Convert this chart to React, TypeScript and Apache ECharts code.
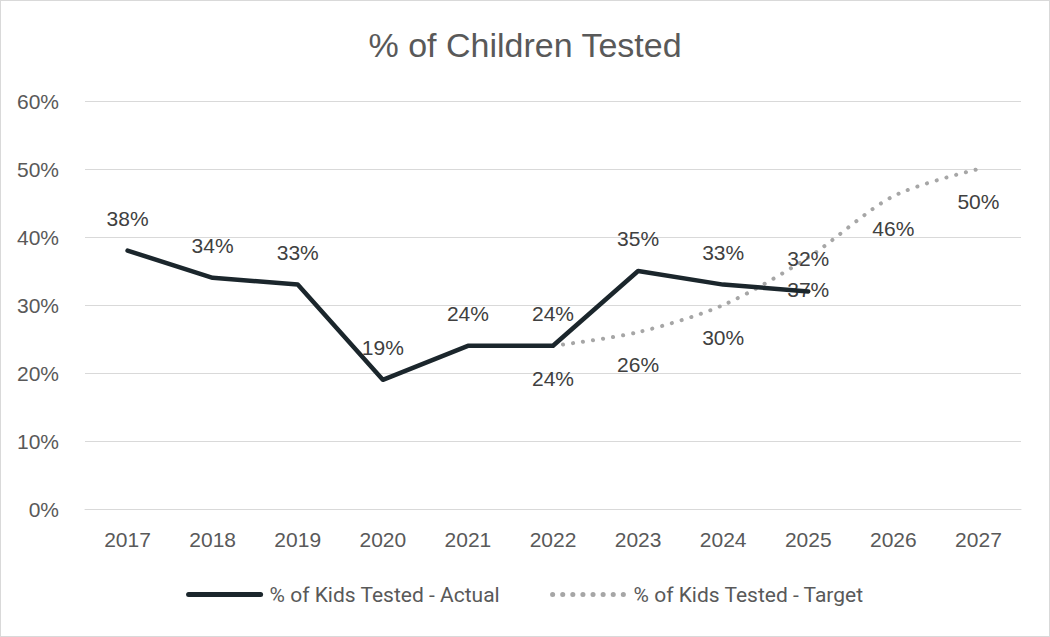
import React, { useEffect, useRef } from "react";
import * as echarts from "echarts";

const categories = ["2017", "2018", "2019", "2020", "2021", "2022", "2023", "2024", "2025", "2026", "2027"];
const actualValues: (number | null)[] = [38, 34, 33, 19, 24, 24, 35, 33, 32, null, null];
const targetValues: (number | null)[] = [null, null, null, null, null, 24, 26, 30, 37, 46, 50];
const yTicks = [0, 10, 20, 30, 40, 50, 60];
const seriesNames = ["% of Kids Tested - Actual", "% of Kids Tested - Target"];

const TEXT = "#595959";
const FONT = "'Liberation Sans', Arial, sans-serif";

export default function App() {
  const ref = useRef<HTMLDivElement>(null);
  useEffect(() => {
    document.body.style.margin = "0";
    const chart = echarts.init(ref.current!, null, { renderer: "svg" });
    chart.setOption({
      animation: false,
      backgroundColor: "#ffffff",
      title: {
        text: "% of Children Tested",
        left: "center",
        top: 22,
        textStyle: { fontFamily: FONT, fontSize: 34, fontWeight: "normal", color: TEXT },
      },
      legend: {
        show: true,
        bottom: 26,
        left: "center",
        itemWidth: 72,
        itemHeight: 14,
        itemGap: 50,
        itemStyle: { opacity: 0 },
        lineStyle: { width: 5 },
        textStyle: { fontFamily: "Roboto, sans-serif", fontSize: 21, color: TEXT, padding: [0, 0, 0, 4] },
        data: seriesNames,
      },
      grid: { left: 84, right: 28, top: 100, bottom: 127 },
      xAxis: {
        type: "category",
        data: categories,
        boundaryGap: true,
        axisLine: { lineStyle: { color: "#D9D9D9", width: 1 } },
        axisTick: { show: false },
        axisLabel: { color: TEXT, fontFamily: FONT, fontSize: 21, margin: 20 },
      },
      yAxis: {
        type: "value",
        min: yTicks[0],
        max: yTicks[yTicks.length - 1],
        interval: 10,
        axisLine: { show: false },
        axisTick: { show: false },
        splitLine: { lineStyle: { color: "#D9D9D9", width: 1 } },
        axisLabel: { color: TEXT, fontFamily: FONT, fontSize: 21, margin: 26, formatter: "{value}%" },
      },
      series: [
        {
          name: seriesNames[0],
          type: "line",
          data: actualValues,
          symbol: "circle",
          symbolSize: 0,
          showSymbol: true,
          lineStyle: { color: "#1B262C", width: 4.5, cap: "round", join: "round" },
          itemStyle: { color: "#1B262C" },
          label: {
            show: true,
            position: "top",
            distance: 22,
            formatter: "{c}%",
            color: "#404040",
            fontFamily: FONT,
            fontSize: 21,
          },
          z: 3,
        },
        {
          name: seriesNames[1],
          type: "line",
          data: targetValues,
          smooth: 0.3,
          symbol: "circle",
          symbolSize: 0,
          showSymbol: true,
          lineStyle: { color: "#A6A6A6", width: 4, type: [0.1, 10], cap: "round" },
          itemStyle: { color: "#A6A6A6" },
          label: {
            show: true,
            position: "bottom",
            distance: 22,
            formatter: "{c}%",
            color: "#404040",
            fontFamily: FONT,
            fontSize: 21,
          },
          z: 2,
        },
      ],
    });
    return () => chart.dispose();
  }, []);
  return (
    <div
      ref={ref}
      style={{ position: "absolute", left: 0, top: 0, width: 1050, height: 637, boxSizing: "border-box", border: "1px solid #D9D9D9" }}
    />
  );
}
